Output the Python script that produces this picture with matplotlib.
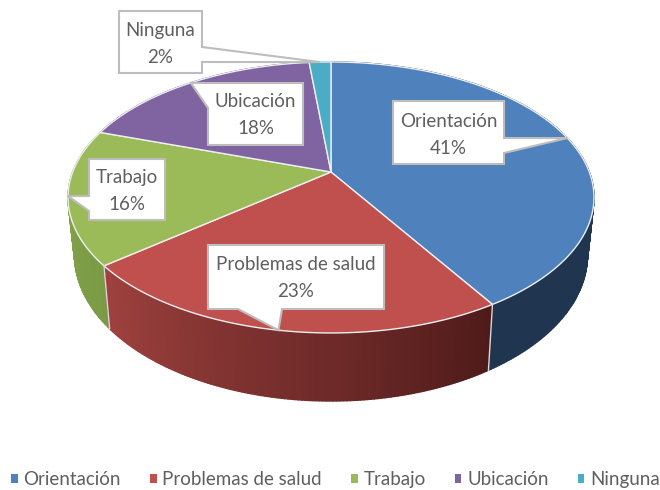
import numpy as np
import matplotlib
matplotlib.use("Agg")
import matplotlib.pyplot as plt
from matplotlib.patches import Patch
from matplotlib.colors import to_rgb

categories = ["Orientación", "Problemas de salud", "Trabajo", "Ubicación", "Ninguna"]
values = [41.2, 22.9, 16.1, 18.2, 1.6]
percent_labels = ["41%", "23%", "16%", "18%", "2%"]
top_colors = ["#4f81bd", "#c0504d", "#9bbb59", "#8064a2", "#4bacc6"]
side_from = ["#1f3550", "#a0423f", "#8aa94f", "#6b5088", "#3a8ea5"]
side_to = ["#1f3550", "#4e1b1a", "#7b9a45", "#5a4175", "#2f7f95"]

TXT = "#5f5f5f"
plt.rcParams["font.family"] = ["Lato", "DejaVu Sans"]

fig = plt.figure(figsize=(6.6, 4.9), dpi=100)
ax = fig.add_axes([0, 0, 1, 1])
ax.set_xlim(0, 660)
ax.set_ylim(490, 0)
ax.axis("off")

# perspective projection of the pie disc onto the page
CX, CY, BX, AY, P = 331.0, 172.0, 258.3, 130.7, 0.188

def project(theta):
    sx, cy = np.sin(theta), np.cos(theta)
    d = 1 + P * cy
    return CX + BX * sx / d, CY - AY * cy / d

def lower(x, y):
    return CX + (x - CX) * 0.975, 1.077 * y + 42.4

fractions = np.array(values) / np.sum(values)
edges = np.concatenate([[0], np.cumsum(fractions)]) * 2 * np.pi

# side wall, painted back to front
quads = []
for i in range(len(values)):
    n = max(4, int((edges[i + 1] - edges[i]) * 90))
    th = np.linspace(edges[i], edges[i + 1], n + 1)
    x, y = project(th)
    xb, yb = lower(x, y)
    c0, c1 = np.array(to_rgb(side_from[i])), np.array(to_rgb(side_to[i]))
    for j in range(n):
        t = (j + 0.5) / n
        col = c1 * (1 - t) + c0 * t
        quads.append((y[j] + y[j + 1],
                      [x[j], x[j + 1], xb[j + 1], xb[j]],
                      [y[j], y[j + 1], yb[j + 1], yb[j]], col))
quads.sort(key=lambda q: q[0])
for _, qx, qy, col in quads:
    ax.fill(qx, qy, facecolor=col, edgecolor=col, lw=1.0, zorder=2)

# top face
for i in range(len(values)):
    th = np.linspace(edges[i], edges[i + 1], 200)
    x, y = project(th)
    ax.fill(np.r_[CX, x], np.r_[CY, y], facecolor=top_colors[i],
            edgecolor="#eef0f2", lw=1.0, joinstyle="round", zorder=3)

# pale vertical seams on the wall where front slices meet
for i in (1, 2):
    x, y = project(edges[i])
    xb, yb = lower(x, y)
    ax.plot([x, xb], [y, yb], color="#d8d8d8", lw=1.0, zorder=3)

# callouts: box (left, right, top, bottom), text line centres
boxes = [(393, 504, 101, 164, 121, 148),
         (208, 384, 245, 309, 264.5, 291.5),
         (89, 165, 159, 220, 177.5, 204.5),
         (208, 303, 83, 145, 101.5, 128.5),
         (119, 202, 11, 73, 30.5, 57.5)]
bases = [("r", 138, 153), ("b", 238, 282), ("l", 196, 211), ("l", 83, 108), ("r", 47, 62)]
mids = (edges[:-1] + edges[1:]) / 2
for i, ((l, r, t, b, y1, y2), (side, s0, s1)) in enumerate(zip(boxes, bases)):
    tx, ty = project(mids[i])
    if side == "r":
        pts = [(l, t), (r, t), (r, s0), (tx, ty), (r, s1), (r, b), (l, b)]
    elif side == "b":
        pts = [(l, t), (r, t), (r, b), (s1, b), (tx, ty), (s0, b), (l, b)]
    else:
        pts = [(l, t), (r, t), (r, b), (l, b), (l, s1), (tx, ty), (l, s0)]
    px, py = zip(*pts)
    ax.fill(px, py, facecolor="white", edgecolor="#bdbdbd", lw=1.5,
            joinstyle="miter", zorder=5)
    xc = (l + r) / 2
    ax.text(xc, y1, categories[i], ha="center", va="center", fontsize=13.5,
            color=TXT, zorder=6)
    ax.text(xc, y2, percent_labels[i], ha="center", va="center", fontsize=13.5,
            color=TXT, zorder=6)

handles = [Patch(facecolor=c, edgecolor="none") for c in top_colors]
ax.legend(handles, categories, loc="lower left", bbox_to_anchor=(11 / 660, 2 / 490),
          bbox_transform=ax.transAxes, ncol=5, frameon=False, fontsize=13.5,
          labelcolor=TXT, handlelength=0.36, handleheight=0.36, handletextpad=0.3,
          columnspacing=1.55, borderpad=0, borderaxespad=0)

fig.savefig("out.png", dpi=100, facecolor="white")
